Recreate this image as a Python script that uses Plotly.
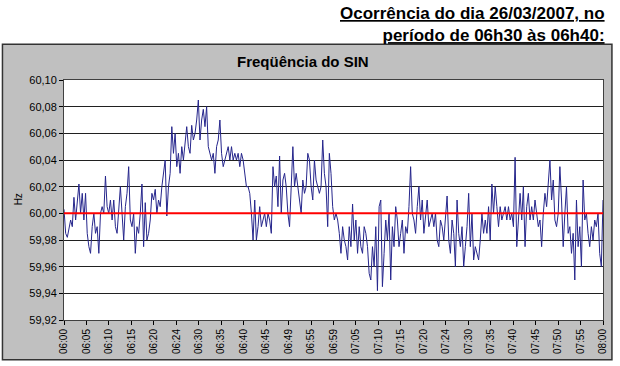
import numpy as np
import plotly.graph_objects as go

# Frequency readings (Hz), 06:00 -> 08:00, in order
freq_a = [60.003, 59.985, 59.982, 59.99, 59.995, 59.99, 60.012, 59.995, 60.01, 60.022,
          60.0, 60.015, 59.995, 60.015, 59.985, 59.975, 59.97, 59.99, 60.0, 59.985,
          59.99, 59.97, 60.0, 60.005, 60.0, 60.028, 60.005, 60.0, 60.01, 59.995,
          60.01, 59.99, 59.985, 60.005, 60.02, 60.0, 59.98, 60.005, 60.015, 60.035,
          59.995, 59.99, 60.0, 59.97, 59.99, 59.985, 60.0, 60.022, 59.975, 60.008,
          59.98, 59.985, 59.995, 60.015, 60.01, 60.018, 60.0, 60.01, 60.005, 60.02,
          60.03, 60.04, 59.998, 60.02, 60.03, 60.065, 60.045, 60.06, 60.035, 60.045,
          60.03, 60.05, 60.04, 60.055, 60.065, 60.05, 60.045, 60.066, 60.055, 60.06,
          60.07, 60.085]
freq_b = [60.055, 60.07, 60.078, 60.065, 60.08, 60.05, 60.045, 60.04, 60.045, 60.03,
          60.05, 60.055, 60.07, 60.045, 60.035, 60.04, 60.045, 60.05, 60.04, 60.05,
          60.04, 60.045, 60.04, 60.045, 60.035, 60.045, 60.04, 60.03, 60.02, 60.02,
          60.015, 60.0, 59.98, 60.01, 59.98, 59.99, 60.005, 59.99, 59.995, 60.0,
          59.99, 60.0, 59.995, 59.985, 60.035, 60.02, 60.028, 60.005, 60.043, 60.0,
          60.025, 60.03, 60.02, 60.0, 59.99, 60.02, 60.05, 60.02, 60.03, 60.02,
          60.01, 60.0, 60.025, 60.015, 60.02, 60.045, 60.04, 60.02, 60.01, 60.04,
          60.025, 60.02, 60.015, 60.02, 60.055, 60.03, 60.02, 59.99, 60.045, 60.03,
          60.005, 59.995, 60.0, 59.995, 59.985, 59.97, 59.99, 59.98, 59.975, 59.965,
          59.99, 59.975, 60.007, 59.98, 59.995, 59.97, 59.99, 59.975, 59.97, 59.99,
          59.985, 59.975, 59.955, 59.95, 59.975, 59.96, 59.99, 59.942, 60.005, 60.01,
          59.945, 59.97, 59.995, 59.98, 60.0, 59.95, 59.99, 59.975, 60.005, 59.995]
freq_c = [59.975, 59.985, 59.995, 59.97, 59.99, 59.985, 60.005, 60.035, 60.0, 59.995,
          59.985, 60.005, 60.02, 59.995, 60.01, 59.985, 60.0, 60.01, 59.99, 59.995,
          60.0, 59.99, 60.0, 59.98, 59.975, 59.995, 59.99, 59.98, 59.995, 60.013,
          59.98, 59.97, 59.995, 59.985, 59.96, 60.01, 59.985, 59.975, 59.99, 59.96,
          59.975, 59.99, 60.015, 59.975, 60.0, 59.965, 59.975, 59.97, 59.965, 59.98,
          60.0, 59.985, 59.995, 59.985, 60.005, 59.98, 60.022, 60.0, 60.02, 60.005,
          59.99, 60.005, 59.995, 60.0, 60.005, 59.995, 60.005, 59.995, 60.0, 59.99,
          60.042, 59.975, 60.0, 60.015, 59.995, 60.02, 59.975, 60.005, 60.015, 59.995,
          60.005, 59.995, 60.01, 60.0, 59.99, 59.995, 59.975, 60.0, 60.015, 60.005,
          60.025, 60.04, 60.01, 60.025, 59.995, 59.99, 60.0, 60.035, 60.01, 59.975,
          60.0, 60.02, 59.985, 59.99, 59.97, 59.985, 59.95, 60.01, 59.975, 59.99,
          59.96, 60.025, 59.995, 60.0, 59.985, 59.975, 59.99, 59.98, 59.995, 59.99,
          60.0, 59.97, 59.96, 60.01]
frequency_hz = freq_a + freq_b + freq_c

nominal_hz = [60.0, 60.0]

tick_labels = ["06:00", "06:05", "06:10", "06:15", "06:20", "06:24", "06:30", "06:35",
               "06:40", "06:45", "06:49", "06:55", "06:59", "07:05", "07:10", "07:15",
               "07:20", "07:24", "07:30", "07:35", "07:40", "07:45", "07:50", "07:55",
               "08:00"]
y_ticks = [59.92, 59.94, 59.96, 59.98, 60.00, 60.02, 60.04, 60.06, 60.08, 60.10]
y_tick_text = [f"{v:.2f}".replace(".", ",") for v in y_ticks]

# sample positions in minutes after 06:00
minutes = np.linspace(0, 120, len(frequency_hz))
tick_pos = np.linspace(0, 120, len(tick_labels))

FONT = "Arial, Liberation Sans, sans-serif"

fig = go.Figure()
fig.add_trace(go.Scatter(x=minutes, y=frequency_hz, mode="lines",
                         line=dict(color="#26268c", width=1), hoverinfo="skip"))
fig.add_trace(go.Scatter(x=[0, 120], y=nominal_hz, mode="lines",
                         line=dict(color="#ff0000", width=2), hoverinfo="skip"))

# plot area px: x 64..607, y 80..322
L, R, T, B = 64, 607, 80, 322
W, H = R - L, B - T
def px(x):
    return (x - L) / W
def py(y):
    return (B - y) / H

fig.update_layout(
    width=620, height=366,
    margin=dict(l=L, r=620 - R, t=T, b=366 - B),
    paper_bgcolor="white", plot_bgcolor="white",
    showlegend=False,
    font=dict(family=FONT, size=11, color="black"),
    shapes=[
        dict(type="rect", xref="paper", yref="paper", layer="below",
             x0=px(2), x1=px(616), y0=py(362), y1=py(44),
             fillcolor="#c0c0c0", line=dict(color="#333333", width=1.5)),
        dict(type="rect", xref="paper", yref="paper", layer="below",
             x0=0, x1=1, y0=0, y1=1, fillcolor="white", line=dict(width=0)),
    ],
    annotations=[
        dict(xref="paper", yref="paper", x=px(611), y=py(1), xanchor="right", yanchor="top",
             align="right", showarrow=False,
             text="<b><u>Ocorrência do dia 26/03/2007, no</u></b><br><b><u>período de 06h30 às 06h40:</u></b>",
             font=dict(family=FONT, size=17, color="black")),
        dict(xref="paper", yref="paper", x=px(305), y=py(61), xanchor="center", yanchor="middle",
             showarrow=False, text="<b>Freqüência do SIN</b>",
             font=dict(family=FONT, size=15, color="black")),
        dict(xref="paper", yref="paper", x=px(18), y=py(200), xanchor="center", yanchor="middle",
             showarrow=False, text="Hz", textangle=-90,
             font=dict(family=FONT, size=10, color="black")),
    ],
    xaxis=dict(range=[0, 120], tickvals=tick_pos, ticktext=tick_labels, tickangle=-90,
               ticks="outside", ticklen=4, tickcolor="black", showgrid=False,
               showline=True, linecolor="#404040", linewidth=1, mirror=True,
               zeroline=False, tickfont=dict(size=10)),
    yaxis=dict(range=[59.92, 60.10], tickvals=y_ticks, ticktext=y_tick_text,
               ticks="outside", ticklen=4, tickcolor="black",
               showgrid=True, gridcolor="#202020", gridwidth=1,
               showline=True, linecolor="#404040", linewidth=1, mirror=True,
               zeroline=False, tickfont=dict(size=11)),
)

fig.write_html("out.html", config={"displayModeBar": False},
               post_script="document.body.style.margin='0';")
